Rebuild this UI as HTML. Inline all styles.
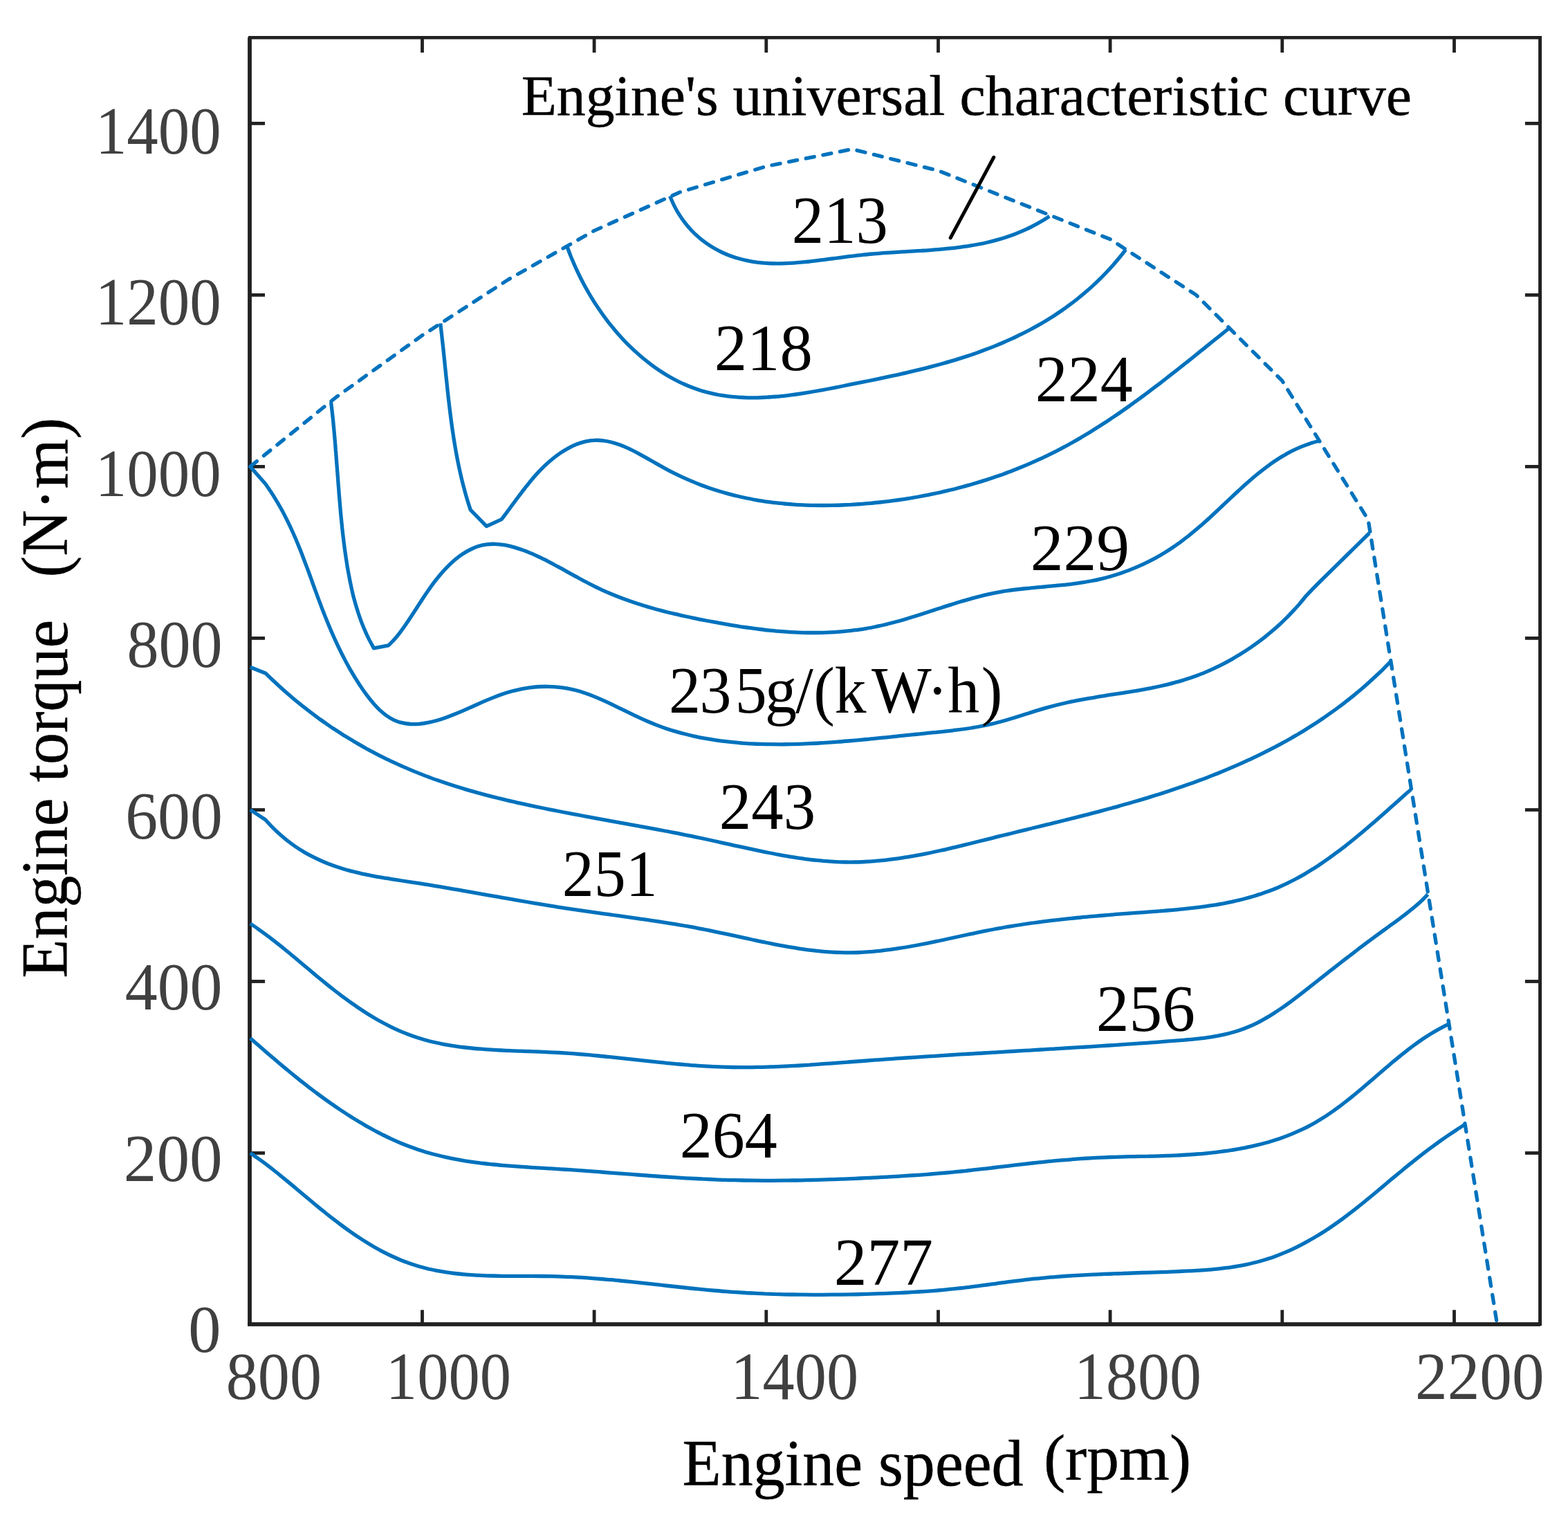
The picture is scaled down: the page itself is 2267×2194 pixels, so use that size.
<!DOCTYPE html>
<html lang="en">
<head>
<meta charset="utf-8">
<title>Engine's universal characteristic curve</title>
<style>
html,body{margin:0;padding:0;background:#fff;}
body{width:2267px;height:2194px;overflow:hidden;}
svg{display:block;}
text{font-family:"Liberation Serif",serif;white-space:pre;}
</style>
</head>
<body>
<svg xmlns="http://www.w3.org/2000/svg" width="2267" height="2194" viewBox="0 0 2267 2194">
<rect x="0" y="0" width="2267" height="2194" fill="#fff"/>
<g fill="#212121">
<rect x="358.1" y="54" width="5.8" height="1862"/>
<rect x="359" y="52" width="1870" height="4.7"/>
<rect x="2224.1" y="52" width="5" height="1864"/>
<rect x="358.1" y="1911.1" width="1869" height="5.8"/>
<rect x="608.1" y="54" width="4.8" height="22"/>
<rect x="608.1" y="1893.3" width="4.8" height="20"/>
<rect x="856.7" y="54" width="4.8" height="22"/>
<rect x="856.7" y="1893.3" width="4.8" height="20"/>
<rect x="1105.4" y="54" width="4.8" height="22"/>
<rect x="1105.4" y="1893.3" width="4.8" height="20"/>
<rect x="1354.1" y="54" width="4.8" height="22"/>
<rect x="1354.1" y="1893.3" width="4.8" height="20"/>
<rect x="1602.7" y="54" width="4.8" height="22"/>
<rect x="1602.7" y="1893.3" width="4.8" height="20"/>
<rect x="1851.4" y="54" width="4.8" height="22"/>
<rect x="1851.4" y="1893.3" width="4.8" height="20"/>
<rect x="2100.1" y="54" width="4.8" height="22"/>
<rect x="2100.1" y="1893.3" width="4.8" height="20"/>
<rect x="361" y="1664.1" width="22" height="4.8"/>
<rect x="2204.9" y="1664.1" width="22" height="4.8"/>
<rect x="361" y="1416.1" width="22" height="4.8"/>
<rect x="2204.9" y="1416.1" width="22" height="4.8"/>
<rect x="361" y="1168.1" width="22" height="4.8"/>
<rect x="2204.9" y="1168.1" width="22" height="4.8"/>
<rect x="361" y="920" width="22" height="4.8"/>
<rect x="2204.9" y="920" width="22" height="4.8"/>
<rect x="361" y="672" width="22" height="4.8"/>
<rect x="2204.9" y="672" width="22" height="4.8"/>
<rect x="361" y="424" width="22" height="4.8"/>
<rect x="2204.9" y="424" width="22" height="4.8"/>
<rect x="361" y="176" width="22" height="4.8"/>
<rect x="2204.9" y="176" width="22" height="4.8"/>
</g>
<g fill="none" stroke="#0072bd" stroke-width="5.3" stroke-linejoin="round" stroke-linecap="butt">
<path d="M361.8 1666.5C363.6 1667.7 369 1671.3 372.5 1673.9C376.1 1676.4 379.7 1679 383.3 1681.7C386.9 1684.4 390.5 1687.2 394.1 1690C397.7 1692.8 401.4 1695.7 405 1698.7C408.6 1701.6 412.2 1704.6 415.9 1707.6C419.5 1710.6 423.2 1713.7 426.9 1716.7C430.5 1719.8 434.2 1722.9 437.9 1726C441.6 1729.1 445.3 1732.2 449 1735.3C452.7 1738.4 456.5 1741.5 460.2 1744.6C464 1747.6 467.8 1750.7 471.5 1753.7C475.3 1756.8 479.1 1759.8 482.9 1762.7C486.8 1765.7 490.6 1768.6 494.5 1771.5C498.3 1774.3 502.2 1777.1 506.1 1779.9C510 1782.6 513.9 1785.3 517.9 1787.9C521.8 1790.5 525.8 1793.1 529.8 1795.5C533.8 1798 537.8 1800.4 541.8 1802.7C545.8 1805 549.9 1807.2 554 1809.4C558.1 1811.5 562.2 1813.5 566.4 1815.5C570.5 1817.4 574.7 1819.2 578.9 1821C583.1 1822.7 587.3 1824.3 591.6 1825.8C595.8 1827.3 600.1 1828.7 604.5 1830C608.8 1831.3 613.1 1832.4 617.5 1833.5C621.9 1834.6 626.3 1835.5 630.8 1836.4C635.2 1837.2 639.7 1838 644.2 1838.7C648.6 1839.4 653.2 1840 657.7 1840.5C662.2 1841 666.8 1841.5 671.3 1841.9C675.9 1842.3 680.5 1842.6 685.1 1842.9C689.7 1843.2 694.3 1843.4 699 1843.6C703.6 1843.8 708.3 1843.9 712.9 1844C717.6 1844.1 722.3 1844.2 727 1844.3C731.6 1844.3 736.3 1844.3 741 1844.4C745.7 1844.4 750.4 1844.4 755.2 1844.4C759.9 1844.4 764.6 1844.4 769.3 1844.4C774 1844.5 778.8 1844.5 783.5 1844.5C788.2 1844.6 792.9 1844.6 797.7 1844.7C802.4 1844.8 807.1 1844.9 811.8 1845.1C816.5 1845.3 821.2 1845.4 825.9 1845.7C830.7 1845.9 835.4 1846.2 840.1 1846.4C844.8 1846.7 849.5 1847 854.2 1847.4C858.8 1847.7 863.5 1848.1 868.2 1848.5C872.9 1848.8 877.6 1849.3 882.3 1849.7C887 1850.1 891.6 1850.5 896.3 1851C901 1851.5 905.7 1851.9 910.3 1852.4C915 1852.9 919.7 1853.4 924.3 1853.9C929 1854.4 933.7 1854.9 938.3 1855.4C943 1855.9 947.7 1856.4 952.3 1856.9C957 1857.5 961.6 1858 966.3 1858.5C970.9 1859 975.6 1859.5 980.2 1860C984.9 1860.5 989.5 1861 994.2 1861.5C998.8 1862 1003.5 1862.5 1008.1 1862.9C1012.8 1863.4 1017.4 1863.8 1022.1 1864.3C1026.7 1864.7 1031.3 1865.1 1036 1865.5C1040.6 1865.9 1045.3 1866.3 1049.9 1866.6C1054.5 1867 1059.2 1867.3 1063.8 1867.6C1068.5 1867.9 1073.1 1868.2 1077.7 1868.5C1082.4 1868.8 1087 1869 1091.6 1869.2C1096.3 1869.5 1100.9 1869.7 1105.5 1869.9C1110.2 1870 1114.8 1870.2 1119.4 1870.4C1124.1 1870.5 1128.7 1870.6 1133.3 1870.8C1138 1870.9 1142.6 1871 1147.3 1871C1151.9 1871.1 1156.5 1871.2 1161.2 1871.2C1165.8 1871.3 1170.4 1871.3 1175.1 1871.3C1179.7 1871.3 1184.4 1871.3 1189 1871.3C1193.6 1871.3 1198.3 1871.3 1202.9 1871.2C1207.6 1871.2 1212.2 1871.2 1216.8 1871.1C1221.5 1871 1226.1 1870.9 1230.8 1870.9C1235.4 1870.8 1240.1 1870.7 1244.7 1870.5C1249.4 1870.4 1254 1870.3 1258.7 1870.2C1263.3 1870 1268 1869.9 1272.6 1869.7C1277.3 1869.6 1282 1869.4 1286.6 1869.2C1291.3 1869 1295.9 1868.8 1300.6 1868.6C1305.3 1868.4 1309.9 1868.1 1314.6 1867.9C1319.3 1867.6 1323.9 1867.3 1328.6 1867C1333.3 1866.7 1337.9 1866.4 1342.6 1866.1C1347.3 1865.7 1351.9 1865.4 1356.6 1865C1361.3 1864.6 1365.9 1864.1 1370.6 1863.7C1375.3 1863.2 1380 1862.8 1384.6 1862.2C1389.3 1861.7 1394 1861.2 1398.7 1860.6C1403.3 1860.1 1408 1859.5 1412.7 1858.9C1417.4 1858.3 1422 1857.6 1426.7 1857C1431.4 1856.4 1436.1 1855.8 1440.7 1855.1C1445.4 1854.5 1450.1 1853.9 1454.8 1853.2C1459.4 1852.6 1464.1 1852 1468.8 1851.4C1473.5 1850.8 1478.1 1850.3 1482.8 1849.7C1487.5 1849.2 1492.2 1848.6 1496.8 1848.2C1501.5 1847.7 1506.2 1847.2 1510.8 1846.8C1515.5 1846.3 1520.2 1846 1524.9 1845.6C1529.5 1845.2 1534.2 1844.9 1538.9 1844.5C1543.5 1844.2 1548.2 1843.9 1552.9 1843.6C1557.5 1843.3 1562.2 1843.1 1566.9 1842.8C1571.5 1842.6 1576.2 1842.3 1580.9 1842.1C1585.5 1841.9 1590.2 1841.7 1594.8 1841.5C1599.5 1841.3 1604.1 1841.1 1608.8 1841C1613.5 1840.8 1618.1 1840.6 1622.8 1840.5C1627.4 1840.3 1632.1 1840.1 1636.7 1840C1641.4 1839.8 1646 1839.7 1650.7 1839.5C1655.3 1839.4 1659.9 1839.2 1664.6 1839.1C1669.2 1838.9 1673.9 1838.8 1678.5 1838.6C1683.1 1838.5 1687.8 1838.3 1692.4 1838.1C1697 1837.9 1701.7 1837.7 1706.3 1837.5C1710.9 1837.3 1715.5 1837.1 1720.1 1836.9C1724.8 1836.7 1729.4 1836.4 1734 1836.1C1738.6 1835.8 1743.2 1835.5 1747.8 1835.1C1752.4 1834.7 1756.9 1834.3 1761.5 1833.8C1766.1 1833.3 1770.6 1832.8 1775.2 1832.2C1779.7 1831.5 1784.2 1830.9 1788.7 1830.1C1793.3 1829.3 1797.7 1828.5 1802.2 1827.6C1806.7 1826.6 1811.2 1825.6 1815.6 1824.5C1820 1823.4 1824.5 1822.2 1828.8 1820.8C1833.2 1819.5 1837.6 1818 1842 1816.5C1846.3 1814.9 1850.6 1813.2 1854.9 1811.4C1859.2 1809.7 1863.5 1807.8 1867.7 1805.8C1872 1803.9 1876.2 1801.8 1880.4 1799.6C1884.5 1797.5 1888.7 1795.2 1892.8 1792.9C1896.9 1790.6 1901 1788.2 1905.1 1785.8C1909.1 1783.3 1913.1 1780.8 1917.1 1778.2C1921.1 1775.6 1925 1772.9 1928.9 1770.2C1932.8 1767.5 1936.6 1764.8 1940.5 1762C1944.3 1759.2 1948.1 1756.3 1951.8 1753.4C1955.6 1750.6 1959.3 1747.6 1963.1 1744.7C1966.8 1741.7 1970.5 1738.8 1974.1 1735.8C1977.8 1732.8 1981.4 1729.8 1985.1 1726.8C1988.7 1723.8 1992.3 1720.7 1995.9 1717.7C1999.6 1714.7 2003.2 1711.6 2006.7 1708.6C2010.3 1705.6 2013.9 1702.6 2017.5 1699.6C2021.1 1696.6 2024.7 1693.6 2028.3 1690.7C2031.9 1687.7 2035.5 1684.8 2039.1 1681.9C2042.7 1679 2046.3 1676.1 2049.9 1673.3C2053.5 1670.4 2057.2 1667.6 2060.8 1664.8C2064.5 1662.1 2068.2 1659.3 2071.9 1656.6C2075.6 1653.9 2079.3 1651.2 2083 1648.5C2086.8 1645.8 2090.5 1643.2 2094.4 1640.6C2098.2 1638 2102 1635.4 2105.9 1632.9C2109.7 1630.4 2115.6 1626.7 2117.6 1625.4"/>
<path d="M361.8 1500.5C363.4 1501.9 368.3 1506.2 371.6 1509.1C374.9 1512 378.2 1514.9 381.6 1517.8C385 1520.7 388.4 1523.7 391.8 1526.6C395.3 1529.5 398.8 1532.5 402.3 1535.5C405.8 1538.4 409.3 1541.4 412.9 1544.4C416.5 1547.3 420.1 1550.3 423.7 1553.2C427.4 1556.2 431 1559.1 434.7 1562.1C438.4 1565 442.2 1567.9 445.9 1570.8C449.7 1573.7 453.5 1576.6 457.3 1579.5C461.2 1582.4 465 1585.2 468.9 1588C472.8 1590.8 476.7 1593.6 480.6 1596.3C484.5 1599.1 488.5 1601.8 492.5 1604.4C496.5 1607.1 500.5 1609.7 504.5 1612.3C508.6 1614.8 512.6 1617.4 516.7 1619.8C520.8 1622.3 524.9 1624.7 529 1627.1C533.1 1629.4 537.3 1631.7 541.5 1634C545.7 1636.2 549.8 1638.4 554.1 1640.5C558.3 1642.6 562.5 1644.6 566.8 1646.6C571 1648.5 575.3 1650.4 579.6 1652.2C583.9 1654 588.2 1655.7 592.5 1657.3C596.9 1658.9 601.2 1660.4 605.6 1661.9C610 1663.3 614.3 1664.7 618.7 1666C623.1 1667.2 627.6 1668.4 632 1669.5C636.4 1670.7 640.9 1671.7 645.3 1672.7C649.8 1673.6 654.2 1674.5 658.7 1675.4C663.2 1676.2 667.7 1677 672.2 1677.8C676.7 1678.5 681.2 1679.1 685.8 1679.8C690.3 1680.4 694.8 1681 699.4 1681.5C703.9 1682.1 708.5 1682.5 713.1 1683C717.6 1683.5 722.2 1683.9 726.8 1684.3C731.4 1684.7 736 1685 740.6 1685.4C745.2 1685.7 749.8 1686.1 754.4 1686.4C759 1686.7 763.6 1687 768.2 1687.3C772.9 1687.6 777.5 1687.8 782.1 1688.1C786.7 1688.4 791.4 1688.7 796 1688.9C800.7 1689.2 805.3 1689.5 809.9 1689.8C814.6 1690.1 819.2 1690.4 823.9 1690.7C828.5 1691 833.1 1691.4 837.8 1691.7C842.4 1692 847.1 1692.4 851.7 1692.7C856.4 1693 861 1693.4 865.7 1693.7C870.4 1694.1 875 1694.4 879.7 1694.8C884.3 1695.2 889 1695.5 893.6 1695.9C898.3 1696.2 902.9 1696.6 907.6 1696.9C912.3 1697.3 916.9 1697.6 921.6 1698C926.3 1698.3 930.9 1698.7 935.6 1699C940.2 1699.4 944.9 1699.7 949.6 1700C954.2 1700.4 958.9 1700.7 963.6 1701C968.2 1701.3 972.9 1701.6 977.6 1701.9C982.2 1702.2 986.9 1702.5 991.6 1702.8C996.3 1703 1000.9 1703.3 1005.6 1703.5C1010.3 1703.8 1014.9 1704 1019.6 1704.2C1024.3 1704.4 1028.9 1704.6 1033.6 1704.8C1038.3 1705 1042.9 1705.2 1047.6 1705.3C1052.3 1705.5 1057 1705.6 1061.6 1705.7C1066.3 1705.8 1071 1705.9 1075.6 1706C1080.3 1706.1 1085 1706.1 1089.6 1706.2C1094.3 1706.2 1099 1706.3 1103.6 1706.3C1108.3 1706.3 1113 1706.3 1117.6 1706.3C1122.3 1706.3 1127 1706.2 1131.6 1706.2C1136.3 1706.1 1140.9 1706.1 1145.6 1706C1150.3 1706 1154.9 1705.9 1159.6 1705.8C1164.3 1705.7 1168.9 1705.6 1173.6 1705.5C1178.2 1705.3 1182.9 1705.2 1187.5 1705.1C1192.2 1704.9 1196.8 1704.8 1201.5 1704.6C1206.2 1704.5 1210.8 1704.3 1215.5 1704.1C1220.1 1704 1224.8 1703.8 1229.4 1703.6C1234 1703.4 1238.7 1703.2 1243.3 1703C1248 1702.8 1252.6 1702.5 1257.3 1702.3C1261.9 1702.1 1266.5 1701.9 1271.2 1701.6C1275.8 1701.4 1280.4 1701.2 1285.1 1700.9C1289.7 1700.6 1294.3 1700.4 1299 1700.1C1303.6 1699.8 1308.2 1699.5 1312.9 1699.2C1317.5 1698.9 1322.1 1698.6 1326.7 1698.3C1331.4 1698 1336 1697.7 1340.6 1697.3C1345.2 1696.9 1349.9 1696.6 1354.5 1696.2C1359.1 1695.8 1363.7 1695.4 1368.4 1695C1373 1694.6 1377.6 1694.1 1382.2 1693.7C1386.8 1693.2 1391.5 1692.8 1396.1 1692.3C1400.7 1691.8 1405.3 1691.3 1409.9 1690.7C1414.6 1690.2 1419.2 1689.7 1423.8 1689.2C1428.4 1688.6 1433 1688.1 1437.7 1687.5C1442.3 1687 1446.9 1686.4 1451.5 1685.9C1456.1 1685.3 1460.8 1684.8 1465.4 1684.2C1470 1683.7 1474.6 1683.1 1479.2 1682.6C1483.9 1682.1 1488.5 1681.5 1493.1 1681C1497.7 1680.5 1502.4 1680 1507 1679.6C1511.6 1679.1 1516.2 1678.6 1520.9 1678.2C1525.5 1677.7 1530.1 1677.3 1534.8 1676.9C1539.4 1676.5 1544 1676.1 1548.7 1675.8C1553.3 1675.4 1557.9 1675.1 1562.6 1674.7C1567.2 1674.4 1571.9 1674.1 1576.5 1673.8C1581.1 1673.6 1585.8 1673.3 1590.4 1673.1C1595.1 1672.9 1599.7 1672.7 1604.4 1672.5C1609 1672.4 1613.7 1672.2 1618.3 1672.1C1623 1672 1627.6 1671.9 1632.3 1671.7C1637 1671.6 1641.6 1671.5 1646.3 1671.4C1650.9 1671.3 1655.6 1671.3 1660.3 1671.2C1665 1671 1669.6 1670.9 1674.3 1670.8C1679 1670.7 1683.7 1670.5 1688.3 1670.4C1693 1670.2 1697.7 1670 1702.4 1669.8C1707.1 1669.6 1711.8 1669.3 1716.5 1669C1721.2 1668.7 1725.9 1668.4 1730.5 1668C1735.2 1667.7 1739.9 1667.3 1744.6 1666.8C1749.3 1666.4 1753.9 1665.9 1758.6 1665.3C1763.2 1664.7 1767.9 1664.1 1772.5 1663.5C1777.1 1662.8 1781.8 1662.1 1786.3 1661.3C1790.9 1660.5 1795.5 1659.7 1800.1 1658.8C1804.6 1657.9 1809.1 1656.9 1813.6 1655.9C1818.1 1654.8 1822.6 1653.7 1827.1 1652.5C1831.5 1651.3 1835.9 1650.1 1840.3 1648.7C1844.7 1647.4 1849 1645.9 1853.3 1644.4C1857.6 1642.9 1861.9 1641.3 1866.1 1639.6C1870.3 1637.9 1874.5 1636.1 1878.6 1634.2C1882.8 1632.3 1886.9 1630.4 1890.9 1628.3C1895 1626.2 1898.9 1624 1902.9 1621.7C1906.8 1619.4 1910.7 1617 1914.6 1614.6C1918.4 1612.1 1922.2 1609.5 1926 1606.9C1929.7 1604.3 1933.5 1601.5 1937.2 1598.8C1940.9 1596 1944.6 1593.2 1948.2 1590.3C1951.9 1587.4 1955.5 1584.4 1959.1 1581.5C1962.7 1578.5 1966.3 1575.5 1969.9 1572.5C1973.5 1569.4 1977.1 1566.3 1980.6 1563.3C1984.2 1560.2 1987.8 1557.1 1991.4 1554C1994.9 1551 1998.5 1547.9 2002.1 1544.8C2005.7 1541.7 2009.3 1538.7 2012.9 1535.6C2016.5 1532.6 2020.2 1529.6 2023.8 1526.6C2027.5 1523.6 2031.2 1520.7 2034.9 1517.8C2038.6 1515 2042.4 1512.1 2046.1 1509.4C2049.9 1506.6 2053.8 1503.9 2057.6 1501.3C2061.5 1498.7 2065.4 1496.2 2069.4 1493.8C2073.3 1491.3 2077.3 1489 2081.4 1486.8C2085.5 1484.5 2091.7 1481.5 2093.8 1480.4"/>
<path d="M361.8 1334.9C363.6 1336.1 369.1 1339.7 372.7 1342.3C376.3 1344.8 379.9 1347.4 383.5 1350.1C387.2 1352.8 390.8 1355.5 394.4 1358.3C398 1361.2 401.7 1364 405.3 1366.9C408.9 1369.8 412.5 1372.8 416.2 1375.8C419.8 1378.8 423.4 1381.8 427.1 1384.8C430.7 1387.9 434.4 1391 438 1394C441.7 1397.1 445.4 1400.2 449.1 1403.2C452.7 1406.3 456.4 1409.4 460.1 1412.5C463.8 1415.5 467.6 1418.6 471.3 1421.6C475 1424.6 478.8 1427.6 482.5 1430.5C486.3 1433.5 490.1 1436.4 493.9 1439.3C497.7 1442.1 501.5 1444.9 505.3 1447.7C509.1 1450.4 513 1453.1 516.9 1455.8C520.8 1458.4 524.7 1461 528.6 1463.5C532.5 1466 536.4 1468.4 540.4 1470.7C544.4 1473.1 548.4 1475.4 552.4 1477.5C556.5 1479.7 560.5 1481.8 564.6 1483.8C568.7 1485.9 572.8 1487.8 576.9 1489.6C581.1 1491.4 585.3 1493.1 589.5 1494.8C593.7 1496.4 597.9 1497.9 602.2 1499.3C606.5 1500.7 610.8 1502 615.2 1503.2C619.5 1504.4 623.9 1505.5 628.3 1506.5C632.7 1507.5 637.1 1508.4 641.6 1509.3C646 1510.1 650.5 1510.9 655 1511.6C659.5 1512.3 664.1 1512.9 668.6 1513.5C673.2 1514.1 677.8 1514.6 682.4 1515C687 1515.5 691.6 1515.9 696.2 1516.2C700.8 1516.6 705.5 1516.9 710.1 1517.2C714.8 1517.5 719.4 1517.7 724.1 1518C728.8 1518.2 733.5 1518.4 738.2 1518.6C742.9 1518.8 747.6 1519 752.3 1519.1C757 1519.3 761.7 1519.5 766.4 1519.7C771.2 1519.8 775.9 1520 780.6 1520.2C785.3 1520.4 790 1520.6 794.8 1520.8C799.5 1521 804.2 1521.3 808.9 1521.5C813.6 1521.8 818.3 1522.1 823 1522.4C827.7 1522.8 832.4 1523.1 837.1 1523.5C841.8 1523.9 846.5 1524.3 851.1 1524.7C855.8 1525.1 860.5 1525.6 865.2 1526C869.8 1526.5 874.5 1527 879.2 1527.4C883.8 1527.9 888.5 1528.4 893.1 1528.9C897.8 1529.4 902.4 1529.9 907.1 1530.4C911.7 1530.9 916.4 1531.4 921 1531.9C925.7 1532.4 930.3 1532.9 934.9 1533.4C939.6 1533.9 944.2 1534.4 948.8 1534.9C953.5 1535.4 958.1 1535.8 962.7 1536.3C967.4 1536.7 972 1537.2 976.6 1537.6C981.2 1538 985.8 1538.5 990.5 1538.8C995.1 1539.2 999.7 1539.6 1004.3 1539.9C1008.9 1540.3 1013.5 1540.6 1018.1 1540.9C1022.8 1541.1 1027.4 1541.4 1032 1541.6C1036.6 1541.8 1041.2 1542 1045.8 1542.2C1050.4 1542.3 1055 1542.4 1059.6 1542.5C1064.2 1542.6 1068.8 1542.6 1073.4 1542.6C1078 1542.6 1082.6 1542.6 1087.2 1542.6C1091.8 1542.5 1096.5 1542.4 1101.1 1542.3C1105.7 1542.2 1110.3 1542.1 1114.9 1541.9C1119.5 1541.8 1124.1 1541.6 1128.7 1541.4C1133.3 1541.2 1137.9 1541 1142.5 1540.7C1147.1 1540.5 1151.7 1540.2 1156.3 1540C1161 1539.7 1165.6 1539.4 1170.2 1539.1C1174.8 1538.8 1179.4 1538.5 1184 1538.2C1188.7 1537.8 1193.3 1537.5 1197.9 1537.2C1202.5 1536.8 1207.1 1536.5 1211.8 1536.1C1216.4 1535.8 1221 1535.4 1225.7 1535.1C1230.3 1534.7 1234.9 1534.4 1239.6 1534C1244.2 1533.7 1248.8 1533.3 1253.5 1533C1258.1 1532.6 1262.8 1532.3 1267.4 1531.9C1272.1 1531.6 1276.7 1531.3 1281.4 1530.9C1286 1530.6 1290.7 1530.3 1295.3 1529.9C1300 1529.6 1304.7 1529.3 1309.3 1529C1314 1528.7 1318.7 1528.4 1323.3 1528.1C1328 1527.8 1332.7 1527.4 1337.3 1527.1C1342 1526.8 1346.7 1526.5 1351.3 1526.3C1356 1526 1360.7 1525.7 1365.4 1525.4C1370 1525.1 1374.7 1524.8 1379.4 1524.5C1384.1 1524.2 1388.7 1523.9 1393.4 1523.7C1398.1 1523.4 1402.8 1523.1 1407.5 1522.8C1412.1 1522.5 1416.8 1522.2 1421.5 1522C1426.2 1521.7 1430.8 1521.4 1435.5 1521.1C1440.2 1520.9 1444.9 1520.6 1449.5 1520.3C1454.2 1520 1458.9 1519.8 1463.6 1519.5C1468.2 1519.2 1472.9 1519 1477.6 1518.7C1482.2 1518.4 1486.9 1518.1 1491.6 1517.9C1496.2 1517.6 1500.9 1517.3 1505.6 1517C1510.2 1516.8 1514.9 1516.5 1519.5 1516.2C1524.2 1515.9 1528.9 1515.6 1533.5 1515.4C1538.2 1515.1 1542.8 1514.8 1547.5 1514.5C1552.1 1514.2 1556.7 1514 1561.4 1513.7C1566 1513.4 1570.7 1513.1 1575.3 1512.8C1579.9 1512.5 1584.6 1512.2 1589.2 1511.9C1593.8 1511.6 1598.4 1511.3 1603.1 1511C1607.7 1510.7 1612.3 1510.4 1616.9 1510.1C1621.5 1509.8 1626.1 1509.5 1630.7 1509.2C1635.3 1508.9 1639.9 1508.6 1644.5 1508.2C1649.1 1507.9 1653.7 1507.6 1658.2 1507.3C1662.8 1506.9 1667.4 1506.6 1672 1506.3C1676.5 1505.9 1681.1 1505.6 1685.7 1505.2C1690.2 1504.9 1694.8 1504.5 1699.3 1504.2C1703.8 1503.8 1708.4 1503.5 1712.9 1503.1C1717.4 1502.7 1722 1502.3 1726.5 1501.8C1731 1501.4 1735.5 1500.9 1740 1500.3C1744.5 1499.8 1748.9 1499.1 1753.4 1498.4C1757.8 1497.7 1762.3 1496.9 1766.7 1495.9C1771.1 1495 1775.5 1494 1779.9 1492.8C1784.3 1491.6 1788.7 1490.3 1793 1488.8C1797.3 1487.3 1801.7 1485.6 1805.9 1483.8C1810.2 1482 1814.5 1480 1818.7 1477.8C1823 1475.7 1827.2 1473.3 1831.3 1470.9C1835.5 1468.5 1839.6 1465.9 1843.7 1463.2C1847.9 1460.6 1851.9 1457.8 1856 1455C1860 1452.1 1864 1449.2 1868 1446.3C1871.9 1443.4 1875.8 1440.4 1879.7 1437.4C1883.6 1434.4 1887.4 1431.4 1891.2 1428.4C1895 1425.4 1898.8 1422.4 1902.5 1419.5C1906.2 1416.6 1909.8 1413.7 1913.5 1410.8C1917.1 1408 1920.7 1405.2 1924.2 1402.4C1927.8 1399.6 1931.3 1396.8 1934.9 1394.1C1938.4 1391.3 1941.9 1388.6 1945.4 1385.9C1948.9 1383.2 1952.4 1380.5 1956 1377.8C1959.5 1375.1 1963 1372.4 1966.5 1369.7C1970.1 1367.1 1973.7 1364.4 1977.2 1361.7C1980.8 1359 1984.5 1356.3 1988.1 1353.6C1991.8 1350.9 1995.5 1348.2 1999.2 1345.5C2003 1342.7 2006.8 1340 2010.6 1337.2C2014.5 1334.4 2018.4 1331.6 2022.2 1328.8C2026 1325.9 2029.9 1323.1 2033.6 1320.1C2037.3 1317.2 2041 1314.3 2044.6 1311.3C2048.2 1308.3 2051.6 1305.3 2054.9 1302.2C2058.2 1299.1 2062.7 1294.3 2064.3 1292.7"/>
<path d="M361.8 1170.4L383.7 1184.7C385.4 1186.6 390.6 1192.4 394.1 1195.9C397.6 1199.5 401.2 1202.9 404.8 1206.1C408.4 1209.4 412.1 1212.4 415.9 1215.3C419.6 1218.3 423.4 1221 427.2 1223.6C431.1 1226.2 435 1228.7 438.9 1231.1C442.9 1233.4 446.9 1235.6 450.9 1237.7C454.9 1239.7 459 1241.7 463.1 1243.5C467.2 1245.4 471.4 1247.1 475.6 1248.7C479.8 1250.3 484 1251.8 488.3 1253.2C492.5 1254.6 496.8 1256 501.1 1257.2C505.5 1258.4 509.8 1259.6 514.2 1260.6C518.6 1261.7 523 1262.7 527.4 1263.7C531.8 1264.6 536.3 1265.5 540.8 1266.3C545.2 1267.2 549.7 1267.9 554.2 1268.7C558.7 1269.5 563.3 1270.2 567.8 1270.9C572.4 1271.6 576.9 1272.3 581.5 1273C586 1273.7 590.6 1274.4 595.2 1275.1C599.8 1275.8 604.3 1276.5 608.9 1277.2C613.5 1278 618.1 1278.7 622.7 1279.4C627.3 1280.2 631.9 1280.9 636.5 1281.7C641.1 1282.5 645.7 1283.3 650.4 1284.1C655 1284.8 659.6 1285.6 664.2 1286.4C668.8 1287.2 673.4 1288.1 678.1 1288.9C682.7 1289.7 687.3 1290.5 692 1291.3C696.6 1292.1 701.2 1293 705.8 1293.8C710.5 1294.6 715.1 1295.4 719.7 1296.2C724.4 1297.1 729 1297.9 733.7 1298.7C738.3 1299.5 742.9 1300.3 747.6 1301.1C752.2 1301.9 756.8 1302.7 761.5 1303.5C766.1 1304.3 770.7 1305.1 775.4 1305.9C780 1306.7 784.6 1307.4 789.3 1308.2C793.9 1309 798.5 1309.7 803.2 1310.4C807.8 1311.2 812.4 1311.9 817 1312.6C821.7 1313.3 826.3 1314 830.9 1314.7C835.5 1315.4 840.1 1316 844.7 1316.7C849.3 1317.3 854 1318 858.6 1318.6C863.2 1319.3 867.8 1319.9 872.4 1320.6C877 1321.2 881.6 1321.8 886.2 1322.5C890.8 1323.1 895.4 1323.8 900 1324.4C904.6 1325 909.2 1325.7 913.8 1326.3C918.4 1327 923 1327.6 927.5 1328.3C932.1 1328.9 936.7 1329.6 941.3 1330.3C945.9 1331 950.5 1331.7 955.1 1332.4C959.7 1333.1 964.2 1333.8 968.8 1334.6C973.4 1335.3 978 1336.1 982.6 1336.8C987.2 1337.6 991.7 1338.4 996.3 1339.2C1000.9 1340 1005.5 1340.9 1010.1 1341.8C1014.6 1342.6 1019.2 1343.5 1023.8 1344.4C1028.4 1345.4 1032.9 1346.3 1037.5 1347.3C1042.1 1348.2 1046.7 1349.2 1051.2 1350.2C1055.8 1351.2 1060.4 1352.2 1065 1353.2C1069.6 1354.2 1074.1 1355.2 1078.7 1356.2C1083.3 1357.2 1087.9 1358.1 1092.4 1359.1C1097 1360.1 1101.6 1361.1 1106.2 1362C1110.7 1362.9 1115.3 1363.9 1119.9 1364.8C1124.5 1365.6 1129 1366.5 1133.6 1367.3C1138.2 1368.2 1142.8 1369 1147.4 1369.7C1151.9 1370.4 1156.5 1371.2 1161.1 1371.8C1165.7 1372.5 1170.3 1373.1 1174.9 1373.6C1179.4 1374.2 1184 1374.7 1188.6 1375.1C1193.2 1375.5 1197.8 1375.8 1202.4 1376.1C1207 1376.4 1211.6 1376.6 1216.1 1376.7C1220.7 1376.9 1225.3 1376.9 1229.9 1376.9C1234.5 1376.8 1239.1 1376.7 1243.7 1376.5C1248.3 1376.3 1252.9 1376 1257.5 1375.7C1262.1 1375.3 1266.7 1374.9 1271.3 1374.4C1275.9 1373.9 1280.5 1373.3 1285.1 1372.7C1289.7 1372.1 1294.3 1371.4 1298.9 1370.7C1303.6 1370 1308.2 1369.3 1312.8 1368.5C1317.4 1367.7 1322 1366.8 1326.6 1366C1331.2 1365.1 1335.8 1364.2 1340.4 1363.3C1345.1 1362.3 1349.7 1361.4 1354.3 1360.4C1358.9 1359.5 1363.5 1358.5 1368.1 1357.5C1372.8 1356.5 1377.4 1355.5 1382 1354.5C1386.6 1353.5 1391.2 1352.5 1395.8 1351.5C1400.5 1350.5 1405.1 1349.5 1409.7 1348.6C1414.3 1347.6 1418.9 1346.7 1423.6 1345.7C1428.2 1344.8 1432.8 1343.9 1437.4 1343C1442.1 1342.2 1446.7 1341.3 1451.3 1340.5C1455.9 1339.7 1460.5 1338.9 1465.2 1338.2C1469.8 1337.4 1474.4 1336.7 1479 1336C1483.7 1335.3 1488.3 1334.7 1492.9 1334C1497.5 1333.4 1502.2 1332.8 1506.8 1332.2C1511.4 1331.6 1516 1331 1520.7 1330.4C1525.3 1329.9 1529.9 1329.4 1534.5 1328.9C1539.1 1328.3 1543.8 1327.8 1548.4 1327.4C1553 1326.9 1557.6 1326.4 1562.3 1326C1566.9 1325.5 1571.5 1325.1 1576.1 1324.7C1580.7 1324.3 1585.4 1323.9 1590 1323.5C1594.6 1323.1 1599.2 1322.7 1603.8 1322.3C1608.4 1322 1613.1 1321.6 1617.7 1321.2C1622.3 1320.9 1626.9 1320.5 1631.5 1320.2C1636.1 1319.8 1640.8 1319.5 1645.4 1319.1C1650 1318.8 1654.6 1318.5 1659.2 1318.1C1663.8 1317.8 1668.4 1317.4 1673 1317.1C1677.6 1316.7 1682.2 1316.4 1686.8 1316C1691.4 1315.6 1696 1315.2 1700.6 1314.8C1705.2 1314.4 1709.8 1313.9 1714.3 1313.4C1718.9 1313 1723.5 1312.5 1728 1311.9C1732.6 1311.4 1737.1 1310.8 1741.7 1310.1C1746.2 1309.5 1750.7 1308.8 1755.3 1308.1C1759.8 1307.4 1764.3 1306.6 1768.8 1305.8C1773.2 1304.9 1777.7 1304 1782.2 1303.1C1786.6 1302.1 1791.1 1301.1 1795.5 1300C1799.9 1298.8 1804.4 1297.7 1808.8 1296.4C1813.1 1295.1 1817.5 1293.8 1821.9 1292.4C1826.2 1290.9 1830.6 1289.4 1834.9 1287.8C1839.2 1286.2 1843.5 1284.5 1847.8 1282.7C1852.1 1280.8 1856.3 1278.9 1860.6 1276.9C1864.8 1274.9 1869 1272.7 1873.2 1270.5C1877.4 1268.3 1881.5 1266 1885.7 1263.6C1889.8 1261.2 1893.9 1258.7 1898 1256.1C1902 1253.5 1906.1 1250.9 1910.1 1248.2C1914.1 1245.5 1918.1 1242.7 1922.1 1239.9C1926.1 1237 1930 1234.1 1933.9 1231.2C1937.8 1228.3 1941.6 1225.3 1945.5 1222.3C1949.3 1219.3 1953.1 1216.3 1956.9 1213.2C1960.6 1210.2 1964.4 1207.1 1968.1 1204C1971.8 1200.9 1975.4 1197.8 1979 1194.7C1982.7 1191.7 1986.2 1188.5 1989.8 1185.5C1993.3 1182.4 1996.8 1179.3 2000.3 1176.2C2003.7 1173.2 2007.2 1170.1 2010.6 1167.1C2013.9 1164.1 2017.3 1161.1 2020.6 1158.2C2023.9 1155.3 2027.1 1152.4 2030.3 1149.6C2033.5 1146.7 2038.2 1142.6 2039.8 1141.2"/>
<path d="M361.8 964.3L384.3 973.3C386 975 391.1 980 394.6 983.3C398.1 986.6 401.6 989.8 405.1 993C408.6 996.2 412.2 999.4 415.8 1002.5C419.4 1005.6 423 1008.7 426.6 1011.7C430.3 1014.7 434 1017.7 437.7 1020.7C441.4 1023.6 445.1 1026.5 448.9 1029.4C452.6 1032.2 456.4 1035 460.2 1037.8C464 1040.5 467.8 1043.3 471.7 1045.9C475.6 1048.6 479.4 1051.3 483.3 1053.8C487.2 1056.4 491.2 1059 495.1 1061.5C499.1 1064 503.1 1066.4 507.1 1068.8C511.1 1071.2 515.1 1073.6 519.1 1075.9C523.2 1078.3 527.2 1080.5 531.3 1082.8C535.4 1085 539.5 1087.2 543.6 1089.3C547.7 1091.5 551.9 1093.6 556 1095.6C560.2 1097.7 564.4 1099.7 568.6 1101.7C572.8 1103.6 577 1105.5 581.2 1107.4C585.4 1109.3 589.7 1111.1 594 1112.9C598.2 1114.7 602.5 1116.4 606.8 1118.1C611.1 1119.8 615.4 1121.5 619.7 1123.1C624.1 1124.7 628.4 1126.3 632.8 1127.8C637.1 1129.3 641.5 1130.8 645.9 1132.3C650.2 1133.7 654.6 1135.1 659 1136.5C663.5 1137.9 667.9 1139.2 672.3 1140.6C676.7 1141.9 681.2 1143.2 685.6 1144.4C690.1 1145.7 694.5 1146.9 699 1148.1C703.5 1149.3 707.9 1150.4 712.4 1151.6C716.9 1152.7 721.4 1153.8 725.9 1154.9C730.4 1156 734.9 1157.1 739.4 1158.1C744 1159.2 748.5 1160.2 753 1161.2C757.5 1162.2 762.1 1163.2 766.6 1164.2C771.1 1165.1 775.7 1166.1 780.2 1167C784.8 1168 789.3 1168.9 793.9 1169.8C798.5 1170.7 803 1171.6 807.6 1172.5C812.1 1173.4 816.7 1174.3 821.3 1175.1C825.8 1176 830.4 1176.9 835 1177.7C839.6 1178.6 844.1 1179.4 848.7 1180.3C853.3 1181.1 857.9 1182 862.4 1182.8C867 1183.6 871.6 1184.5 876.2 1185.3C880.8 1186.1 885.4 1186.9 889.9 1187.8C894.5 1188.6 899.1 1189.4 903.7 1190.3C908.3 1191.1 912.9 1191.9 917.5 1192.8C922.1 1193.6 926.7 1194.4 931.3 1195.3C935.9 1196.1 940.5 1197 945.1 1197.8C949.7 1198.7 954.3 1199.6 958.9 1200.5C963.5 1201.3 968.1 1202.2 972.7 1203.1C977.3 1204 981.9 1204.9 986.5 1205.8C991.1 1206.8 995.8 1207.7 1000.4 1208.6C1005 1209.6 1009.6 1210.5 1014.2 1211.5C1018.8 1212.5 1023.5 1213.5 1028.1 1214.5C1032.7 1215.5 1037.3 1216.5 1041.9 1217.6C1046.5 1218.6 1051.2 1219.6 1055.8 1220.6C1060.4 1221.7 1065 1222.7 1069.7 1223.7C1074.3 1224.7 1078.9 1225.7 1083.5 1226.7C1088.2 1227.7 1092.8 1228.7 1097.4 1229.7C1102 1230.6 1106.7 1231.6 1111.3 1232.5C1115.9 1233.4 1120.5 1234.3 1125.2 1235.1C1129.8 1236 1134.4 1236.8 1139.1 1237.6C1143.7 1238.4 1148.3 1239.1 1152.9 1239.8C1157.6 1240.5 1162.2 1241.2 1166.8 1241.8C1171.5 1242.4 1176.1 1242.9 1180.7 1243.4C1185.4 1243.9 1190 1244.3 1194.6 1244.7C1199.2 1245 1203.9 1245.3 1208.5 1245.6C1213.1 1245.8 1217.8 1245.9 1222.4 1246C1227 1246.1 1231.7 1246.1 1236.3 1246C1240.9 1245.9 1245.5 1245.8 1250.2 1245.5C1254.8 1245.3 1259.4 1245 1264.1 1244.6C1268.7 1244.2 1273.3 1243.8 1277.9 1243.3C1282.6 1242.8 1287.2 1242.2 1291.8 1241.6C1296.4 1241 1301.1 1240.3 1305.7 1239.6C1310.3 1238.9 1314.9 1238.1 1319.6 1237.3C1324.2 1236.5 1328.8 1235.6 1333.4 1234.8C1338 1233.9 1342.6 1232.9 1347.3 1232C1351.9 1231 1356.5 1230 1361.1 1229C1365.7 1228 1370.3 1226.9 1374.9 1225.8C1379.5 1224.8 1384.1 1223.7 1388.7 1222.6C1393.3 1221.5 1397.9 1220.3 1402.5 1219.2C1407.1 1218.1 1411.7 1216.9 1416.3 1215.8C1420.9 1214.7 1425.5 1213.5 1430.1 1212.4C1434.7 1211.2 1439.3 1210.1 1443.8 1208.9C1448.4 1207.8 1453 1206.7 1457.6 1205.6C1462.1 1204.4 1466.7 1203.3 1471.3 1202.2C1475.8 1201.1 1480.4 1200 1485 1198.9C1489.5 1197.7 1494.1 1196.6 1498.6 1195.5C1503.2 1194.4 1507.7 1193.3 1512.3 1192.2C1516.8 1191.1 1521.4 1190 1525.9 1188.8C1530.5 1187.7 1535 1186.6 1539.5 1185.5C1544 1184.3 1548.6 1183.2 1553.1 1182.1C1557.6 1180.9 1562.1 1179.8 1566.6 1178.6C1571.1 1177.5 1575.7 1176.3 1580.2 1175.1C1584.7 1174 1589.2 1172.8 1593.6 1171.6C1598.1 1170.4 1602.6 1169.2 1607.1 1168C1611.6 1166.7 1616.1 1165.5 1620.5 1164.3C1625 1163 1629.5 1161.7 1633.9 1160.5C1638.4 1159.2 1642.8 1157.9 1647.3 1156.6C1651.7 1155.3 1656.2 1153.9 1660.6 1152.6C1665.1 1151.2 1669.5 1149.8 1673.9 1148.5C1678.3 1147.1 1682.7 1145.6 1687.2 1144.2C1691.6 1142.8 1696 1141.3 1700.3 1139.8C1704.7 1138.4 1709.1 1136.9 1713.5 1135.3C1717.9 1133.8 1722.2 1132.2 1726.6 1130.7C1730.9 1129.1 1735.3 1127.5 1739.6 1125.9C1743.9 1124.2 1748.3 1122.6 1752.6 1120.9C1756.9 1119.2 1761.2 1117.5 1765.4 1115.7C1769.7 1114 1774 1112.2 1778.2 1110.4C1782.5 1108.6 1786.7 1106.8 1791 1104.9C1795.2 1103.1 1799.4 1101.2 1803.6 1099.2C1807.8 1097.3 1812 1095.3 1816.2 1093.3C1820.3 1091.3 1824.5 1089.3 1828.6 1087.2C1832.7 1085.2 1836.9 1083.1 1841 1080.9C1845.1 1078.8 1849.1 1076.6 1853.2 1074.4C1857.3 1072.2 1861.3 1070 1865.3 1067.7C1869.4 1065.4 1873.4 1063 1877.4 1060.7C1881.3 1058.3 1885.3 1055.9 1889.2 1053.4C1893.2 1051 1897.1 1048.5 1901 1046C1904.9 1043.4 1908.8 1040.9 1912.7 1038.2C1916.5 1035.6 1920.4 1033 1924.2 1030.2C1928 1027.5 1931.8 1024.8 1935.5 1022C1939.3 1019.2 1943 1016.3 1946.8 1013.4C1950.5 1010.5 1954.2 1007.6 1957.8 1004.6C1961.5 1001.6 1965.1 998.6 1968.8 995.5C1972.4 992.4 1976 989.2 1979.5 986C1983.1 982.9 1986.6 979.6 1990.1 976.3C1993.6 973 1997.1 969.7 2000.5 966.3C2004 962.9 2009.1 957.6 2010.8 955.9"/>
<path d="M361.8 674.5L383.7 699.2C385.1 701.2 389.3 707.3 392 711.4C394.7 715.4 397.2 719.5 399.6 723.6C402.1 727.6 404.4 731.7 406.7 735.8C409 739.9 411.1 744 413.2 748.1C415.3 752.3 417.3 756.4 419.3 760.5C421.2 764.7 423.1 768.8 425 773C426.8 777.1 428.6 781.3 430.3 785.5C432 789.7 433.7 793.8 435.4 798C437 802.2 438.6 806.5 440.2 810.7C441.8 814.9 443.4 819.1 445 823.4C446.6 827.6 448.1 831.9 449.7 836.1C451.2 840.4 452.7 844.7 454.3 849C455.9 853.3 457.4 857.6 459 861.9C460.6 866.2 462.2 870.5 463.9 874.8C465.5 879.2 467.2 883.5 468.9 887.9C470.6 892.3 472.4 896.6 474.2 901C476 905.4 477.9 909.8 479.8 914.2C481.7 918.6 483.7 923 485.7 927.4C487.7 931.8 489.8 936.1 492 940.5C494.1 944.9 496.4 949.3 498.6 953.6C500.9 957.9 503.3 962.3 505.7 966.6C508.2 970.9 510.7 975.1 513.3 979.4C515.9 983.6 518.6 987.8 521.3 991.9C524.1 996.1 526.9 1000.2 529.9 1004.2C532.8 1008.1 535.8 1012 539 1015.6C542.1 1019.3 545.3 1022.7 548.6 1025.9C552 1029 555.4 1031.9 558.9 1034.4C562.4 1036.9 566.1 1039.1 569.8 1040.8C573.5 1042.5 577.4 1043.8 581.3 1044.7C585.3 1045.7 589.3 1046.2 593.4 1046.5C597.5 1046.7 601.7 1046.6 605.9 1046.3C610.2 1045.9 614.5 1045.3 618.8 1044.4C623.1 1043.6 627.5 1042.5 631.9 1041.2C636.3 1040 640.7 1038.5 645.2 1036.9C649.6 1035.3 654 1033.6 658.5 1031.8C662.9 1030 667.4 1028 671.9 1026.1C676.3 1024.2 680.8 1022.1 685.2 1020.2C689.7 1018.2 694.2 1016.2 698.7 1014.2C703.1 1012.3 707.6 1010.4 712.1 1008.6C716.6 1006.8 721.1 1005.1 725.6 1003.5C730.1 1002 734.6 1000.6 739.1 999.3C743.6 998.1 748.1 997 752.6 996.1C757.1 995.1 761.6 994.4 766.1 993.8C770.6 993.2 775.1 992.8 779.6 992.5C784.1 992.3 788.6 992.2 793 992.3C797.5 992.4 801.9 992.6 806.4 993.1C810.8 993.5 815.3 994.1 819.7 994.9C824.1 995.7 828.5 996.6 832.9 997.8C837.2 998.9 841.6 1000.3 845.9 1001.7C850.3 1003.2 854.6 1004.8 858.9 1006.6C863.2 1008.3 867.5 1010.2 871.8 1012.1C876.1 1014 880.4 1016 884.7 1018.1C889 1020.1 893.3 1022.3 897.6 1024.4C901.9 1026.5 906.2 1028.6 910.5 1030.7C914.8 1032.8 919.1 1034.9 923.5 1036.9C927.8 1038.9 932.2 1040.9 936.6 1042.8C940.9 1044.6 945.3 1046.4 949.7 1048.1C954.2 1049.8 958.6 1051.4 963 1052.9C967.5 1054.4 972 1055.8 976.5 1057.1C980.9 1058.4 985.5 1059.7 990 1060.8C994.5 1062 999 1063.1 1003.6 1064.1C1008.1 1065.1 1012.7 1066 1017.3 1066.9C1021.8 1067.7 1026.4 1068.5 1031 1069.2C1035.6 1069.9 1040.2 1070.6 1044.8 1071.2C1049.4 1071.8 1054 1072.3 1058.7 1072.7C1063.3 1073.2 1067.9 1073.6 1072.5 1074C1077.2 1074.3 1081.8 1074.6 1086.5 1074.8C1091.1 1075.1 1095.7 1075.3 1100.4 1075.4C1105 1075.6 1109.7 1075.7 1114.3 1075.7C1119 1075.8 1123.6 1075.8 1128.2 1075.8C1132.9 1075.8 1137.5 1075.7 1142.2 1075.7C1146.8 1075.6 1151.4 1075.4 1156.1 1075.3C1160.7 1075.1 1165.3 1075 1170 1074.7C1174.6 1074.5 1179.2 1074.3 1183.9 1074C1188.5 1073.8 1193.1 1073.5 1197.7 1073.1C1202.4 1072.8 1207 1072.5 1211.6 1072.1C1216.2 1071.8 1220.9 1071.4 1225.5 1071C1230.1 1070.6 1234.7 1070.2 1239.3 1069.8C1243.9 1069.4 1248.5 1068.9 1253.2 1068.5C1257.8 1068.1 1262.4 1067.6 1267 1067.1C1271.6 1066.7 1276.2 1066.2 1280.8 1065.8C1285.4 1065.3 1290 1064.8 1294.6 1064.3C1299.2 1063.9 1303.8 1063.4 1308.4 1062.9C1313.1 1062.4 1317.7 1062 1322.3 1061.5C1326.9 1061 1331.5 1060.6 1336.1 1060.1C1340.6 1059.7 1345.2 1059.2 1349.8 1058.7C1354.4 1058.3 1359 1057.8 1363.6 1057.3C1368.2 1056.8 1372.8 1056.3 1377.4 1055.8C1382 1055.2 1386.6 1054.7 1391.2 1054C1395.8 1053.4 1400.4 1052.7 1405 1052C1409.5 1051.2 1414.1 1050.4 1418.7 1049.5C1423.3 1048.6 1427.9 1047.7 1432.5 1046.6C1437.1 1045.6 1441.7 1044.4 1446.2 1043.2C1450.8 1041.9 1455.4 1040.6 1460 1039.2C1464.6 1037.9 1469.2 1036.5 1473.8 1035C1478.3 1033.6 1482.9 1032.1 1487.5 1030.7C1492.1 1029.2 1496.7 1027.8 1501.3 1026.4C1505.8 1025 1510.4 1023.6 1515 1022.4C1519.6 1021.1 1524.2 1019.9 1528.8 1018.7C1533.3 1017.6 1537.9 1016.5 1542.5 1015.5C1547.1 1014.5 1551.7 1013.6 1556.2 1012.7C1560.8 1011.8 1565.4 1010.9 1569.9 1010.1C1574.5 1009.3 1579.1 1008.5 1583.6 1007.8C1588.2 1007 1592.8 1006.3 1597.3 1005.6C1601.8 1004.8 1606.4 1004.1 1610.9 1003.4C1615.5 1002.7 1620 1002 1624.5 1001.3C1629 1000.6 1633.5 999.9 1638 999.1C1642.6 998.4 1647 997.6 1651.5 996.8C1656 996 1660.5 995.2 1665 994.3C1669.4 993.4 1673.9 992.5 1678.3 991.5C1682.8 990.5 1687.2 989.5 1691.6 988.4C1696 987.3 1700.4 986.1 1704.8 984.9C1709.2 983.6 1713.6 982.3 1718 980.8C1722.3 979.4 1726.7 977.9 1731 976.3C1735.3 974.7 1739.6 972.9 1743.9 971.1C1748.2 969.3 1752.5 967.4 1756.7 965.4C1761 963.4 1765.2 961.3 1769.4 959.2C1773.5 957 1777.7 954.7 1781.8 952.4C1785.9 950 1790 947.6 1794 945.1C1798 942.6 1802 940 1805.9 937.4C1809.9 934.7 1813.8 932 1817.6 929.2C1821.4 926.4 1825.2 923.5 1828.9 920.6C1832.6 917.6 1836.3 914.6 1839.8 911.6C1843.4 908.5 1846.9 905.4 1850.4 902.2C1853.8 899 1857.2 895.8 1860.5 892.5C1863.8 889.2 1867 885.8 1870.2 882.4C1873.3 879 1876.4 875.6 1879.4 872.1C1882.3 868.6 1886.6 863.3 1888 861.5C1891.4 858 1898.5 850.4 1908.5 840.5C1918.5 830.6 1935.8 813.7 1947.7 802C1959.6 790.3 1974.5 775.8 1979.8 770.5"/>
<path d="M478.6 581.3C478.9 583.6 479.7 590.4 480.2 595C480.7 599.5 481.2 604.1 481.7 608.7C482.1 613.3 482.5 617.9 483 622.6C483.4 627.2 483.8 631.8 484.2 636.5C484.6 641.1 485 645.8 485.3 650.5C485.7 655.1 486.1 659.8 486.4 664.5C486.8 669.2 487.1 673.8 487.5 678.5C487.9 683.2 488.2 687.9 488.6 692.6C488.9 697.3 489.3 702 489.7 706.7C490 711.4 490.4 716.1 490.8 720.8C491.2 725.5 491.6 730.2 492 734.9C492.4 739.6 492.8 744.3 493.3 749C493.8 753.7 494.2 758.4 494.7 763C495.2 767.7 495.7 772.4 496.3 777C496.9 781.7 497.4 786.3 498 790.9C498.7 795.6 499.3 800.2 500 804.8C500.7 809.4 501.4 814 502.1 818.6C502.9 823.2 503.7 827.7 504.6 832.3C505.4 836.8 506.3 841.3 507.3 845.8C508.2 850.3 509.2 854.8 510.3 859.3C511.4 863.8 512.6 868.2 513.9 872.6C515.1 877 516.5 881.4 517.9 885.8C519.3 890.2 520.9 894.5 522.5 898.8C524.2 903.2 525.9 907.5 527.8 911.7C529.6 916 531.6 920.2 533.7 924.4C535.9 928.6 539.4 934.8 540.5 936.9L561.6 932.9C563 931.5 567.3 927.4 570.1 924.3C572.8 921.2 575.5 917.8 578.2 914.3C580.9 910.8 583.6 907.1 586.2 903.3C588.8 899.5 591.5 895.5 594.1 891.5C596.7 887.5 599.4 883.4 602.1 879.2C604.7 875.1 607.4 870.9 610.2 866.7C612.9 862.5 615.7 858.3 618.6 854.2C621.5 850 624.4 845.9 627.4 841.9C630.5 837.9 633.6 834 636.8 830.2C640 826.5 643.3 822.8 646.7 819.4C650.1 816 653.6 812.7 657.2 809.6C660.7 806.6 664.4 803.8 668.1 801.2C671.9 798.7 675.7 796.4 679.6 794.5C683.5 792.5 687.4 790.9 691.4 789.6C695.5 788.3 699.6 787.4 703.7 786.9C707.9 786.3 712.1 786.2 716.3 786.3C720.6 786.5 724.9 787 729.2 787.7C733.5 788.4 737.8 789.4 742.1 790.6C746.5 791.8 750.8 793.2 755.1 794.8C759.5 796.3 763.8 798 768.1 799.9C772.4 801.7 776.6 803.7 780.9 805.7C785.2 807.7 789.4 809.9 793.7 812.1C797.9 814.3 802.1 816.6 806.4 818.9C810.6 821.2 814.9 823.5 819.1 825.9C823.3 828.2 827.6 830.6 831.8 832.9C836.1 835.2 840.3 837.6 844.6 839.8C848.8 842.1 853.1 844.3 857.4 846.4C861.6 848.6 865.9 850.6 870.2 852.6C874.6 854.6 878.9 856.5 883.2 858.3C887.5 860.1 891.9 861.9 896.3 863.5C900.6 865.2 905 866.8 909.4 868.3C913.8 869.9 918.2 871.4 922.6 872.8C927 874.2 931.4 875.6 935.8 876.9C940.3 878.2 944.7 879.4 949.2 880.7C953.6 881.9 958.1 883 962.6 884.2C967 885.3 971.5 886.4 976 887.4C980.5 888.5 985 889.5 989.5 890.5C994 891.5 998.5 892.4 1003.1 893.3C1007.6 894.3 1012.1 895.2 1016.6 896.1C1021.2 897 1025.7 897.9 1030.3 898.7C1034.8 899.6 1039.4 900.4 1044 901.2C1048.5 902 1053.1 902.8 1057.7 903.6C1062.3 904.3 1066.8 905.1 1071.4 905.8C1076 906.4 1080.6 907.1 1085.2 907.7C1089.8 908.4 1094.4 909 1099 909.5C1103.6 910.1 1108.2 910.6 1112.8 911.1C1117.4 911.6 1122 912 1126.6 912.4C1131.3 912.7 1135.9 913.1 1140.5 913.4C1145.1 913.7 1149.7 913.9 1154.3 914.1C1159 914.3 1163.6 914.4 1168.2 914.5C1172.8 914.5 1177.4 914.5 1182.1 914.5C1186.7 914.4 1191.3 914.3 1195.9 914.1C1200.5 913.9 1205.2 913.7 1209.8 913.4C1214.4 913.1 1219 912.7 1223.6 912.2C1228.2 911.8 1232.8 911.2 1237.5 910.6C1242.1 910 1246.7 909.3 1251.3 908.6C1255.9 907.8 1260.5 907 1265.1 906C1269.7 905.1 1274.2 904.1 1278.8 903C1283.4 901.9 1288 900.7 1292.6 899.5C1297.1 898.3 1301.7 897 1306.3 895.7C1310.9 894.3 1315.4 893 1320 891.5C1324.6 890.1 1329.1 888.7 1333.7 887.2C1338.2 885.8 1342.8 884.3 1347.3 882.8C1351.9 881.4 1356.4 879.9 1361 878.4C1365.5 876.9 1370.1 875.5 1374.6 874.1C1379.2 872.6 1383.7 871.2 1388.2 869.8C1392.8 868.5 1397.3 867.1 1401.9 865.9C1406.4 864.6 1410.9 863.3 1415.5 862.2C1420 861 1424.5 859.9 1429.1 858.9C1433.6 857.9 1438.1 857 1442.7 856.1C1447.2 855.3 1451.7 854.5 1456.2 853.9C1460.8 853.2 1465.3 852.6 1469.8 852C1474.4 851.5 1478.9 851 1483.4 850.5C1487.9 850 1492.5 849.6 1497 849.2C1501.5 848.8 1506.1 848.4 1510.6 848C1515.1 847.6 1519.7 847.2 1524.2 846.7C1528.7 846.3 1533.3 845.9 1537.8 845.4C1542.3 844.9 1546.9 844.4 1551.4 843.8C1555.9 843.2 1560.5 842.6 1565 841.9C1569.6 841.2 1574.1 840.4 1578.7 839.5C1583.2 838.7 1587.8 837.7 1592.3 836.6C1596.9 835.5 1601.4 834.3 1606 833C1610.5 831.7 1615.1 830.3 1619.6 828.8C1624.1 827.2 1628.6 825.6 1633 823.9C1637.5 822.1 1641.9 820.3 1646.3 818.4C1650.7 816.5 1655 814.4 1659.2 812.3C1663.5 810.2 1667.7 808 1671.8 805.8C1675.9 803.5 1679.9 801.1 1683.9 798.7C1687.8 796.3 1691.7 793.8 1695.5 791.2C1699.3 788.6 1703.1 786 1706.8 783.3C1710.4 780.6 1714.1 777.8 1717.7 775C1721.2 772.2 1724.8 769.3 1728.3 766.3C1731.8 763.4 1735.2 760.4 1738.7 757.4C1742.1 754.4 1745.6 751.3 1749 748.2C1752.4 745.1 1755.8 742 1759.2 738.8C1762.6 735.7 1765.9 732.5 1769.3 729.2C1772.7 726 1776.1 722.8 1779.5 719.6C1782.9 716.4 1786.4 713.2 1789.8 710C1793.3 706.8 1796.7 703.6 1800.2 700.5C1803.7 697.4 1807.2 694.3 1810.8 691.2C1814.4 688.2 1818 685.2 1821.6 682.3C1825.3 679.4 1829 676.5 1832.7 673.8C1836.5 671 1840.3 668.3 1844.1 665.8C1848 663.2 1851.9 660.7 1856 658.4C1860 656 1864 653.8 1868.2 651.7C1872.4 649.6 1876.6 647.7 1880.9 645.9C1885.2 644.1 1889.7 642.4 1894.2 640.9C1898.7 639.4 1905.7 637.7 1908 637"/>
<path d="M636.7 467.4C637 469.7 637.8 476.4 638.3 481C638.8 485.5 639.3 490 639.8 494.5C640.3 499.1 640.8 503.6 641.3 508.1C641.7 512.7 642.2 517.2 642.7 521.7C643.1 526.3 643.6 530.8 644.1 535.4C644.5 539.9 645 544.4 645.5 549C646 553.5 646.4 558.1 646.9 562.6C647.4 567.1 647.9 571.7 648.4 576.2C648.9 580.7 649.5 585.3 650 589.8C650.6 594.3 651.1 598.8 651.7 603.4C652.3 607.9 652.9 612.4 653.5 616.9C654.2 621.4 654.8 625.9 655.5 630.4C656.2 634.9 656.9 639.4 657.7 643.9C658.5 648.4 659.2 652.9 660.1 657.4C660.9 661.8 661.8 666.3 662.7 670.8C663.6 675.2 664.6 679.7 665.6 684.1C666.6 688.6 667.6 693 668.7 697.4C669.9 701.8 671 706.2 672.2 710.6C673.4 715 674.7 719.4 676 723.8C677.4 728.2 679.5 734.7 680.2 736.9L703.4 760.6L725.1 750.6C726.4 748.9 730.3 743.8 732.9 740.3C735.6 736.8 738.3 733.1 741 729.3C743.8 725.6 746.6 721.8 749.4 718C752.3 714.2 755.2 710.3 758.2 706.5C761.2 702.6 764.2 698.8 767.4 695C770.5 691.3 773.7 687.5 777 683.9C780.4 680.3 783.8 676.8 787.3 673.4C790.8 670.1 794.4 666.8 798.2 663.7C801.9 660.7 805.7 657.8 809.6 655.1C813.5 652.5 817.5 650 821.6 647.8C825.6 645.7 829.7 643.7 833.9 642.1C838 640.5 842.2 639.2 846.4 638.2C850.6 637.3 854.9 636.6 859.1 636.4C863.3 636.1 867.5 636.3 871.8 636.8C876 637.2 880.2 638.1 884.4 639.2C888.6 640.3 892.8 641.7 897.1 643.3C901.3 644.9 905.5 646.8 909.7 648.7C914 650.7 918.2 652.9 922.4 655.1C926.6 657.4 930.9 659.8 935.1 662.1C939.4 664.5 943.6 667 947.9 669.4C952.2 671.8 956.4 674.3 960.7 676.6C965 679 969.3 681.3 973.6 683.4C978 685.6 982.3 687.7 986.6 689.7C991 691.7 995.3 693.6 999.7 695.4C1004 697.3 1008.4 699 1012.8 700.7C1017.2 702.4 1021.6 704 1026 705.5C1030.4 707 1034.8 708.4 1039.3 709.8C1043.7 711.1 1048.1 712.4 1052.6 713.6C1057 714.8 1061.5 716 1066 717C1070.4 718.1 1074.9 719.1 1079.4 720C1083.9 720.9 1088.4 721.8 1092.9 722.6C1097.4 723.4 1101.9 724.1 1106.4 724.8C1111 725.4 1115.5 726 1120 726.6C1124.6 727.1 1129.1 727.6 1133.7 728C1138.2 728.5 1142.8 728.8 1147.4 729.1C1151.9 729.5 1156.5 729.7 1161.1 729.9C1165.7 730.1 1170.3 730.3 1174.9 730.4C1179.5 730.5 1184.1 730.5 1188.7 730.5C1193.3 730.5 1197.9 730.5 1202.5 730.4C1207.1 730.3 1211.7 730.2 1216.4 730C1221 729.8 1225.6 729.6 1230.3 729.4C1234.9 729.1 1239.5 728.8 1244.2 728.5C1248.8 728.1 1253.5 727.8 1258.1 727.3C1262.8 726.9 1267.4 726.5 1272 726C1276.7 725.4 1281.3 724.9 1286 724.3C1290.6 723.7 1295.3 723.1 1299.9 722.5C1304.6 721.8 1309.2 721.1 1313.8 720.3C1318.5 719.6 1323.1 718.8 1327.7 718C1332.3 717.1 1337 716.3 1341.6 715.4C1346.2 714.4 1350.8 713.5 1355.4 712.5C1360 711.5 1364.6 710.5 1369.1 709.4C1373.7 708.3 1378.3 707.2 1382.8 706C1387.4 704.8 1391.9 703.6 1396.4 702.4C1401 701.1 1405.5 699.9 1410 698.5C1414.5 697.2 1419 695.8 1423.4 694.4C1427.9 693 1432.4 691.5 1436.8 690C1441.2 688.5 1445.7 687 1450.1 685.4C1454.5 683.8 1458.9 682.2 1463.2 680.5C1467.6 678.8 1471.9 677.1 1476.2 675.3C1480.6 673.6 1484.9 671.8 1489.1 669.9C1493.4 668.1 1497.7 666.2 1501.9 664.2C1506.1 662.3 1510.3 660.3 1514.5 658.3C1518.7 656.3 1522.8 654.2 1527 652.1C1531.1 650 1535.2 647.9 1539.3 645.7C1543.3 643.5 1547.4 641.3 1551.4 639C1555.5 636.7 1559.5 634.4 1563.4 632.1C1567.4 629.7 1571.4 627.3 1575.3 624.9C1579.3 622.5 1583.2 620.1 1587.1 617.6C1591 615.1 1594.9 612.6 1598.8 610.1C1602.6 607.5 1606.5 605 1610.3 602.4C1614.2 599.8 1618 597.2 1621.8 594.5C1625.6 591.9 1629.4 589.2 1633.2 586.5C1636.9 583.8 1640.7 581.1 1644.4 578.4C1648.2 575.6 1651.9 572.9 1655.7 570.1C1659.4 567.3 1663.1 564.5 1666.8 561.7C1670.5 558.9 1674.2 556.1 1677.9 553.3C1681.6 550.4 1685.3 547.6 1689 544.7C1692.6 541.8 1696.3 539 1700 536.1C1703.6 533.2 1707.3 530.3 1710.9 527.4C1714.6 524.5 1718.3 521.6 1721.9 518.7C1725.6 515.7 1729.2 512.8 1732.8 509.9C1736.5 507 1740.1 504.1 1743.8 501.1C1747.4 498.2 1751.1 495.3 1754.7 492.3C1758.3 489.4 1762 486.5 1765.6 483.6C1769.3 480.6 1774.8 476.3 1776.6 474.8"/>
<path d="M819.6 355.4C820.4 357.5 822.7 363.9 824.3 368.1C826 372.3 827.8 376.6 829.6 380.8C831.4 385 833.3 389.3 835.4 393.5C837.4 397.7 839.4 401.9 841.6 406.1C843.8 410.2 846 414.4 848.4 418.5C850.7 422.6 853.1 426.8 855.6 430.8C858.1 434.9 860.7 438.9 863.3 442.9C866 446.9 868.7 450.8 871.5 454.7C874.3 458.6 877.2 462.5 880.1 466.3C883.1 470 886.1 473.8 889.2 477.4C892.3 481.1 895.5 484.7 898.7 488.2C901.9 491.7 905.2 495.2 908.6 498.6C912 501.9 915.5 505.2 919 508.4C922.5 511.6 926.1 514.8 929.7 517.8C933.4 520.8 937.1 523.7 940.9 526.6C944.6 529.4 948.4 532.1 952.3 534.7C956.2 537.3 960.1 539.8 964.1 542.2C968.1 544.6 972.1 546.9 976.2 549C980.3 551.1 984.4 553.2 988.6 555C992.8 556.9 997 558.7 1001.3 560.3C1005.5 561.9 1009.8 563.4 1014.1 564.7C1018.5 566 1022.8 567.2 1027.2 568.2C1031.6 569.3 1036 570.2 1040.5 571C1045 571.7 1049.4 572.4 1053.9 572.9C1058.4 573.4 1063 573.9 1067.5 574.2C1072.1 574.5 1076.6 574.7 1081.2 574.8C1085.8 574.9 1090.4 574.8 1095 574.8C1099.6 574.7 1104.3 574.5 1108.9 574.2C1113.5 574 1118.1 573.6 1122.8 573.2C1127.4 572.8 1132.1 572.3 1136.7 571.8C1141.4 571.2 1146 570.6 1150.7 570C1155.3 569.3 1160 568.6 1164.7 567.9C1169.3 567.1 1174 566.3 1178.7 565.5C1183.3 564.7 1188 563.8 1192.7 563C1197.3 562.1 1202 561.2 1206.7 560.3C1211.3 559.4 1216 558.5 1220.7 557.5C1225.4 556.6 1230 555.7 1234.7 554.7C1239.4 553.8 1244 552.9 1248.7 551.9C1253.4 551 1258 550 1262.7 549.1C1267.3 548.1 1272 547.2 1276.6 546.2C1281.3 545.2 1285.9 544.2 1290.5 543.2C1295.2 542.2 1299.8 541.2 1304.4 540.1C1309 539.1 1313.6 538 1318.2 536.9C1322.8 535.8 1327.4 534.7 1331.9 533.6C1336.5 532.5 1341.1 531.3 1345.6 530.1C1350.2 528.9 1354.7 527.7 1359.2 526.5C1363.7 525.2 1368.2 524 1372.7 522.6C1377.2 521.3 1381.6 520 1386.1 518.6C1390.5 517.2 1394.9 515.8 1399.4 514.4C1403.8 512.9 1408.1 511.4 1412.5 509.9C1416.9 508.3 1421.2 506.7 1425.5 505.1C1429.9 503.5 1434.2 501.8 1438.4 500.1C1442.7 498.4 1447 496.6 1451.2 494.8C1455.4 493 1459.6 491.1 1463.8 489.2C1467.9 487.2 1472.1 485.3 1476.2 483.2C1480.3 481.2 1484.4 479.1 1488.4 477C1492.5 474.8 1496.5 472.7 1500.5 470.4C1504.5 468.1 1508.4 465.8 1512.4 463.5C1516.3 461.1 1520.2 458.7 1524 456.2C1527.9 453.7 1531.7 451.1 1535.5 448.5C1539.3 445.9 1543 443.2 1546.7 440.4C1550.4 437.7 1554.1 434.9 1557.7 432C1561.4 429.1 1565 426.1 1568.5 423.1C1572.1 420.1 1575.6 417 1579 413.9C1582.5 410.7 1585.9 407.5 1589.3 404.1C1592.7 400.8 1596 397.5 1599.3 394C1602.6 390.5 1605.8 387 1609 383.4C1612.2 379.8 1615.4 376.1 1618.5 372.3C1621.6 368.6 1626.1 362.7 1627.6 360.8"/>
<path d="M968.5 283.5C969.6 285.9 972.6 293.1 974.9 297.6C977.2 302.1 979.6 306.5 982.3 310.6C984.9 314.7 987.7 318.6 990.6 322.4C993.5 326.1 996.6 329.7 999.7 333C1002.9 336.4 1006.3 339.6 1009.7 342.5C1013.1 345.5 1016.7 348.3 1020.3 350.9C1024 353.6 1027.8 356 1031.6 358.3C1035.5 360.5 1039.4 362.6 1043.4 364.5C1047.4 366.4 1051.5 368.1 1055.7 369.7C1059.9 371.2 1064.1 372.6 1068.4 373.8C1072.6 375 1077 376.1 1081.3 376.9C1085.7 377.8 1090.1 378.5 1094.5 379.1C1099 379.6 1103.4 380 1107.9 380.3C1112.4 380.6 1117 380.8 1121.5 380.8C1126.1 380.8 1130.7 380.8 1135.3 380.6C1139.9 380.4 1144.5 380.2 1149.2 379.9C1153.8 379.5 1158.5 379.1 1163.2 378.7C1167.9 378.2 1172.6 377.7 1177.3 377.1C1182 376.6 1186.7 375.9 1191.4 375.3C1196.2 374.7 1200.9 374.1 1205.7 373.5C1210.4 372.8 1215.2 372.2 1219.9 371.6C1224.7 370.9 1229.4 370.3 1234.2 369.8C1238.9 369.2 1243.7 368.7 1248.4 368.2C1253.1 367.7 1257.9 367.3 1262.6 366.9C1267.3 366.4 1272 366.1 1276.8 365.7C1281.5 365.4 1286.2 365.1 1290.9 364.8C1295.5 364.5 1300.2 364.2 1304.9 363.9C1309.6 363.7 1314.2 363.4 1318.9 363.1C1323.5 362.8 1328.2 362.6 1332.8 362.3C1337.4 362 1342.1 361.7 1346.7 361.3C1351.3 361 1355.8 360.6 1360.4 360.2C1365 359.8 1369.6 359.4 1374.1 358.9C1378.7 358.4 1383.2 357.9 1387.7 357.3C1392.2 356.7 1396.7 356.1 1401.2 355.4C1405.7 354.7 1410.1 353.9 1414.6 353C1419 352.2 1423.5 351.3 1427.9 350.2C1432.3 349.2 1436.7 348.1 1441 346.9C1445.4 345.7 1449.8 344.4 1454.1 343C1458.4 341.6 1462.7 340.1 1467 338.5C1471.3 336.8 1475.5 335.1 1479.8 333.2C1484 331.3 1488.2 329.4 1492.4 327.2C1496.6 325.1 1500.8 322.8 1504.9 320.3C1509.1 317.9 1515.2 313.9 1517.3 312.6"/>
</g>
<polyline fill="none" stroke="#0072bd" stroke-width="5.3" stroke-dasharray="12.3 12.8" stroke-dashoffset="0" stroke-linejoin="round" stroke-linecap="round" points="361.8,674.4 486.1,574 610.5,484.7 734.8,404.1 859.1,333.4 983.5,277.6 1107.8,240.4 1232.1,215.6 1356.5,246.6 1480.8,296.2 1605.1,345.8 1729.5,426.4 1853.8,550.4 1978.1,751.3 2164.6,1914.5"/>
<line x1="1436.8" y1="227.3" x2="1374.2" y2="343.8" stroke="#000" stroke-width="5" stroke-linecap="round"/>
<text transform="translate(753.69 166.10) scale(1.0034 1)" font-size="83.5" fill="#000" stroke="#000" stroke-width="0.45">Engine&#39;s universal characteristic curve</text>
<text transform="translate(1144.83 350.60) scale(0.9622 1)" font-size="96.3" fill="#000">213</text>
<text transform="translate(1032.63 534.70) scale(0.9843 1)" font-size="96.3" fill="#000">218</text>
<text transform="translate(1496.78 580.00) scale(0.9747 1)" font-size="96.3" fill="#000">224</text>
<text transform="translate(1489.80 824.00) scale(0.9922 1)" font-size="96.3" fill="#000">229</text>
<text transform="translate(0 1030.00) scale(0.9550 1)" x="1012.5 1059.2 1112.8 1158.1 1204.5 1231.6 1263.3 1319.3 1403.2 1434.8 1485.7" font-size="96.3" fill="#000">235g/(kW·h)</text>
<text transform="translate(1039.82 1198.00) scale(0.9644 1)" font-size="96.3" fill="#000">243</text>
<text transform="translate(812.86 1295.10) scale(0.9551 1)" font-size="96.3" fill="#000">251</text>
<text transform="translate(1584.70 1489.80) scale(0.9916 1)" font-size="96.3" fill="#000">256</text>
<text transform="translate(982.67 1672.90) scale(0.9761 1)" font-size="96.3" fill="#000">264</text>
<text transform="translate(1205.70 1856.90) scale(0.9924 1)" font-size="96.3" fill="#000">277</text>
<text transform="translate(986.45 2146.80) scale(0.9586 1)" font-size="96" fill="#000" stroke="#000" stroke-width="0.45">Engine speed</text>
<text transform="translate(1508.88 2137.60) scale(0.9963 1)" font-size="94" fill="#000" stroke="#000" stroke-width="0.45">(rpm)</text>
<text transform="translate(326.69 2021.70) scale(0.9556 1)" font-size="96.5" fill="#404040">800</text>
<text transform="translate(557.84 2021.70) scale(0.9389 1)" font-size="96.5" fill="#404040">1000</text>
<text transform="translate(1056.38 2021.70) scale(0.9572 1)" font-size="96.5" fill="#404040">1400</text>
<text transform="translate(1553.01 2021.70) scale(0.9533 1)" font-size="96.5" fill="#404040">1800</text>
<text transform="translate(2046.00 2021.70) scale(0.9671 1)" font-size="96.5" fill="#404040">2200</text>
<text transform="translate(137.91 221.60) scale(0.9417 1)" font-size="96.5" fill="#404040">1400</text>
<text transform="translate(137.70 469.10) scale(0.9434 1)" font-size="96.5" fill="#404040">1200</text>
<text transform="translate(137.80 716.60) scale(0.9428 1)" font-size="96.5" fill="#404040">1000</text>
<text transform="translate(183.49 964.10) scale(0.9549 1)" font-size="96.5" fill="#404040">800</text>
<text transform="translate(181.28 1211.60) scale(0.9706 1)" font-size="96.5" fill="#404040">600</text>
<text transform="translate(180.67 1459.10) scale(0.9735 1)" font-size="96.5" fill="#404040">400</text>
<text transform="translate(178.82 1706.60) scale(0.9866 1)" font-size="96.5" fill="#404040">200</text>
<text transform="translate(272.21 1954.10) scale(0.9780 1)" font-size="96.5" fill="#404040">0</text>
<text transform="translate(97.00 1413.65) rotate(-90) scale(0.9571 1)" font-size="96" fill="#000" stroke="#000" stroke-width="0.45">Engine torque</text>
<text transform="translate(97.00 834.56) rotate(-90) scale(0.9774 1)" font-size="94.5" fill="#000" stroke="#000" stroke-width="0.45">(N·m)</text>
</svg>
</body>
</html>
